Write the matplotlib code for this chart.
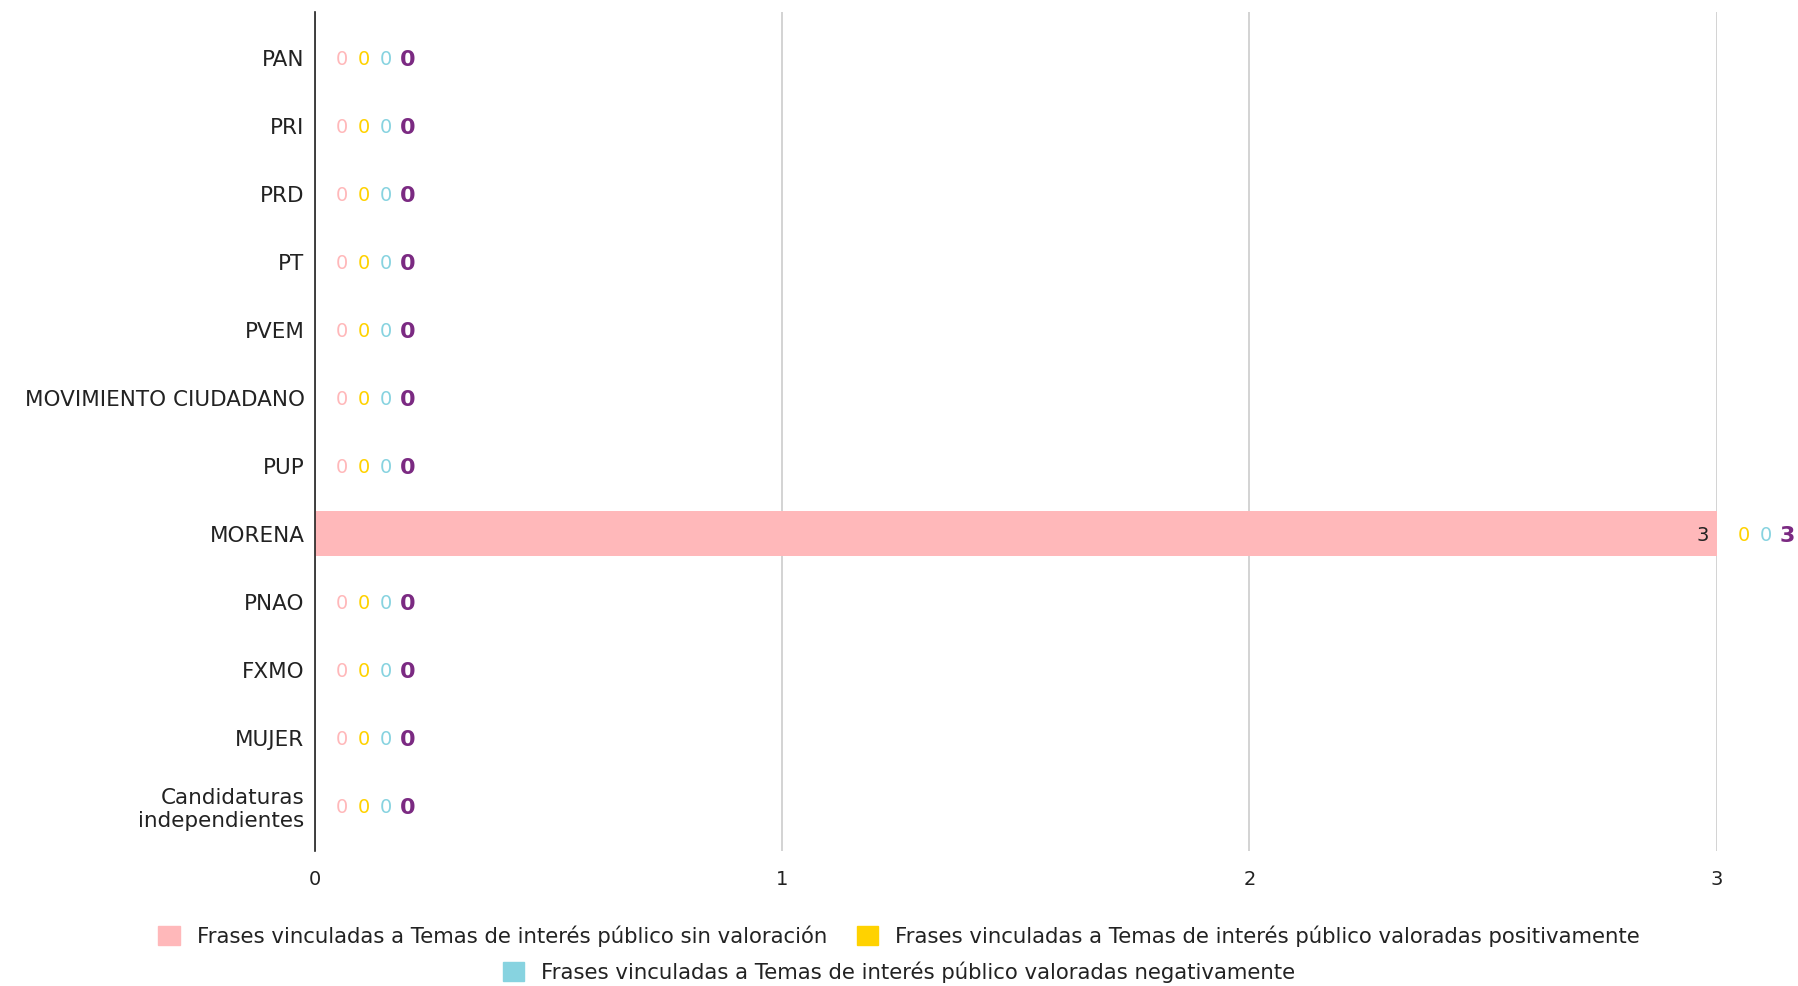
import matplotlib.pyplot as plt
from matplotlib.patches import Patch

parties = ['PAN', 'PRI', 'PRD', 'PT', 'PVEM', 'MOVIMIENTO CIUDADANO', 'PUP',
           'MORENA', 'PNAO', 'FXMO', 'MUJER', 'Candidaturas\nindependientes']
sin_valoracion = [0, 0, 0, 0, 0, 0, 0, 3, 0, 0, 0, 0]
positivas = [0, 0, 0, 0, 0, 0, 0, 0, 0, 0, 0, 0]
negativas = [0, 0, 0, 0, 0, 0, 0, 0, 0, 0, 0, 0]

series_names = ['Frases vinculadas a Temas de interés público sin valoración',
                'Frases vinculadas a Temas de interés público valoradas positivamente',
                'Frases vinculadas a Temas de interés público valoradas negativamente']
colors = ['#ffb8ba', '#ffd200', '#87d3e0']
total_color = '#7b2a82'

fig = plt.figure(figsize=(17.98, 9.86), dpi=100)
ax = fig.add_axes([0.1752, 0.137, 0.7795, 0.851])

y = list(range(len(parties)))
series = [sin_valoracion, positivas, negativas]
left = [0] * len(parties)
for vals, c, name in zip(series, colors, series_names):
    ax.barh(y, vals, left=left, height=0.657, color=c, label=name, zorder=2)
    left = [a + b for a, b in zip(left, vals)]

# etiquetas de valores
for i in y:
    end = 0
    off = 27
    for vals, c in zip(series, colors):
        v = vals[i]
        if v > 0:
            end += v
            ax.annotate(str(v), (end, i), xytext=(-8, 0), textcoords='offset pixels',
                        ha='right', va='center_baseline', fontsize=14, color='#222222')
        else:
            ax.annotate(str(v), (end, i), xytext=(off, 0), textcoords='offset pixels',
                        ha='center', va='center_baseline', fontsize=14, color=c)
            off += 22
    total = sum(s[i] for s in series)
    ax.annotate(str(total), (end, i), xytext=(off, 0), textcoords='offset pixels',
                ha='center', va='center_baseline', fontsize=16, fontweight='bold',
                color=total_color)

ax.set_xlim(0, 3)
ax.set_ylim(11.661, -0.673)
ax.set_yticks(y)
ax.set_yticklabels(parties, fontsize=15.5, color='#222222')
ax.set_xticks([0, 1, 2, 3])
ax.set_xticklabels(['0', '1', '2', '3'], fontsize=14, color='#222222')
ax.tick_params(axis='y', length=0, pad=7.5)
ax.tick_params(axis='x', length=0, pad=14)
ax.xaxis.grid(True, color='#cccccc', linewidth=1.2, zorder=0)
ax.set_axisbelow(True)
for s in ['top', 'right', 'bottom']:
    ax.spines[s].set_visible(False)
ax.spines['left'].set_color('#222222')
ax.spines['left'].set_linewidth(1.2)
ax.spines['left'].set_zorder(3)

handles = [Patch(color=c) for c in colors]
fig.legend(handles[:2], series_names[:2], loc='center', bbox_to_anchor=(0.5, 1 - 936 / 986),
           ncol=2, frameon=False, fontsize=15.3, handlelength=1, handleheight=1,
           handletextpad=0.8, columnspacing=1.4, labelcolor='#222222')
fig.legend(handles[2:], series_names[2:], loc='center', bbox_to_anchor=(0.5, 1 - 972 / 986),
           ncol=1, frameon=False, fontsize=15.3, handlelength=1, handleheight=1,
           handletextpad=0.8, labelcolor='#222222')

fig.savefig('out.png', dpi=100)
